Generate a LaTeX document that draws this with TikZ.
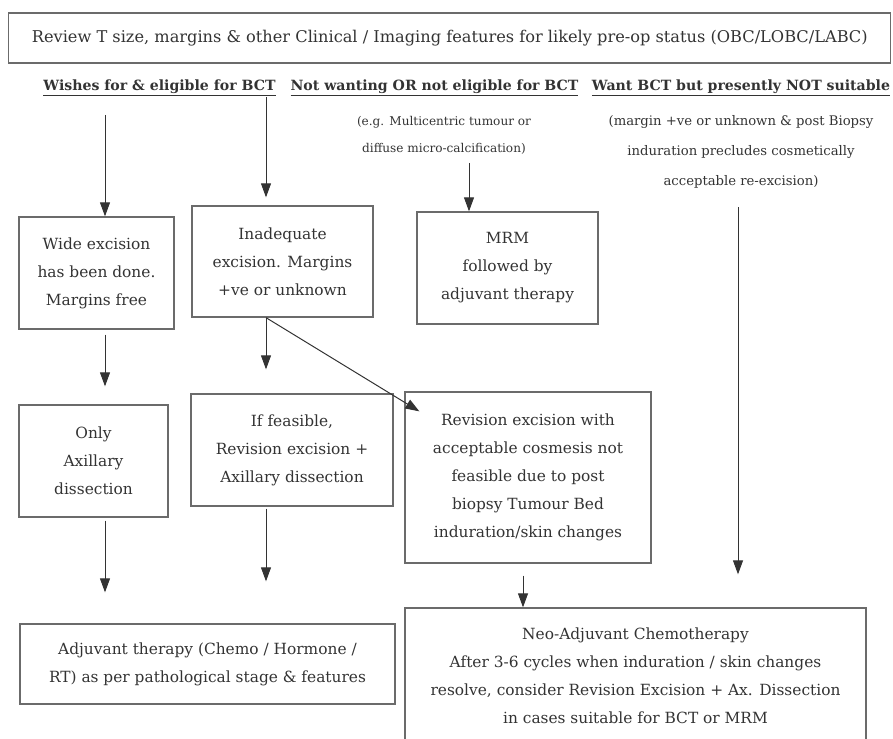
\documentclass[tikz,border=0pt]{standalone}
\usepackage{fontspec}
\setmainfont{DejaVu Serif}
\usetikzlibrary{arrows.meta,positioning}
\definecolor{ink}{rgb}{.2,.2,.2}
\definecolor{frame}{rgb}{.42,.42,.42}

\tikzset{
  stage/.style={draw=frame, line width=1.3pt, align=center, inner sep=0pt, text=ink,
    font=\fontsize{15.4}{28}\selectfont},
  flow/.style={draw=ink, line width=1pt, -{Triangle[length=14pt,width=10pt]}},
  head/.style={text=ink, inner sep=0pt, anchor=base, font=\fontsize{14.1}{16}\selectfont\bfseries},
  note/.style={text=ink, align=center, inner sep=0pt},
}

\begin{document}
\begin{tikzpicture}[x=1pt,y=1pt,yscale=-1,xscale=1]
\useasboundingbox (0,0) rectangle (893,738);
\clip (0,0) rectangle (893,738);

%Shape: Rectangle [review]
\node[stage, minimum width=882pt, minimum height=50pt, font=\fontsize{16.2}{18}\selectfont] (review) at (449.75,38) {Review T size, margins \& other Clinical / Imaging features for likely pre-op status (OBC/LOBC/LABC)};

% Text Node
\node[head] (wish) at (159.5,91) {\underline{Wishes for \& eligible for BCT}};
% Text Node
\node[head] (notbct) at (434.5,91) {\underline{Not wanting OR not eligible for BCT}};
% Text Node
\node[head] (wantbct) at (741,91) {\underline{Want BCT but presently NOT suitable}};
% Text Node
\node[note, font=\fontsize{12.1}{27}\selectfont] (eg) at (444,135.5) {(e.g. Multicentric tumour or\\diffuse micro-calcification)};
% Text Node
\node[note, font=\fontsize{13.2}{30}\selectfont] (marg) at (741,152) {(margin +ve or unknown \& post Biopsy\\induration precludes cosmetically\\acceptable re-excision)};

%Shape: Rectangle [wide]
\node[stage, minimum width=155pt, minimum height=112pt] (wide) at (96.5,273) {Wide excision\\has been done.\\Margins free};
%Shape: Rectangle [inadeq]
\node[stage, minimum width=181pt, minimum height=111pt] (inadeq) at (282.5,261.5) {Inadequate\\excision. Margins\\+ve or unknown};
%Shape: Rectangle [mrm]
\node[stage, minimum width=181pt, minimum height=112pt] (mrm) at (507.5,268) {MRM\\followed by\\adjuvant therapy};
%Shape: Rectangle [axonly]
\node[stage, minimum width=149pt, minimum height=112pt] (axonly) at (93.5,461) {Only\\Axillary\\dissection};
%Shape: Rectangle [revfeas]
\node[stage, minimum width=202pt, minimum height=112pt] (revfeas) at (292,450) {If feasible,\\Revision excision +\\Axillary dissection};
%Shape: Rectangle [revnot]
\node[stage, minimum width=246pt, minimum height=171pt] (revnot) at (528,477.5) {Revision excision with\\acceptable cosmesis not\\feasible due to post\\biopsy Tumour Bed\\induration/skin changes};
%Shape: Rectangle [adjuv]
\node[stage, minimum width=375pt, minimum height=80pt] (adjuv) at (207.5,664) {Adjuvant therapy (Chemo / Hormone /\\RT) as per pathological stage \& features};
%Shape: Rectangle [neoadj]
\node[stage, minimum width=461pt, minimum height=136pt] (neoadj) at (635.5,676) {Neo-Adjuvant Chemotherapy\\After 3-6 cycles when induration / skin changes\\resolve, consider Revision Excision + Ax. Dissection\\in cases suitable for BCT or MRM};

% free ends
\coordinate (wishA) at (105,115);
\coordinate (wishB) at (266,97);
\coordinate (egC) at (469,163);
\coordinate (wantD) at (738,207);

%Arrows
\draw[flow] (wishA) -- (wishA |- wide.north);
\draw[flow, shorten >=8pt] (wishB) -- (wishB |- inadeq.north);
\draw[flow] (egC) -- (egC |- mrm.north);
\draw[flow, shorten >=33pt] (wantD) -- (wantD |- neoadj.north);
\draw[flow, shorten <=5pt, shorten >=18pt] (wishA |- wide.south) -- (wishA |- axonly.north);
\draw[flow, shorten >=24pt] (wishB |- inadeq.south) -- (wishB |- revfeas.north);
\draw[flow] (wishB |- inadeq.south) -- ([shift={(15pt,20pt)}]revnot.north west);
\draw[flow, shorten <=3pt, shorten >=31pt] (wishA |- axonly.south) -- (wishA |- adjuv.north);
\draw[flow, shorten <=2pt, shorten >=42pt] (wishB |- revfeas.south) -- (wishB |- adjuv.north);
\draw[flow, shorten <=12pt] ([xshift=-5pt]revnot.south) -- ([xshift=-5pt]revnot.south |- neoadj.north);

\end{tikzpicture}
\end{document}
